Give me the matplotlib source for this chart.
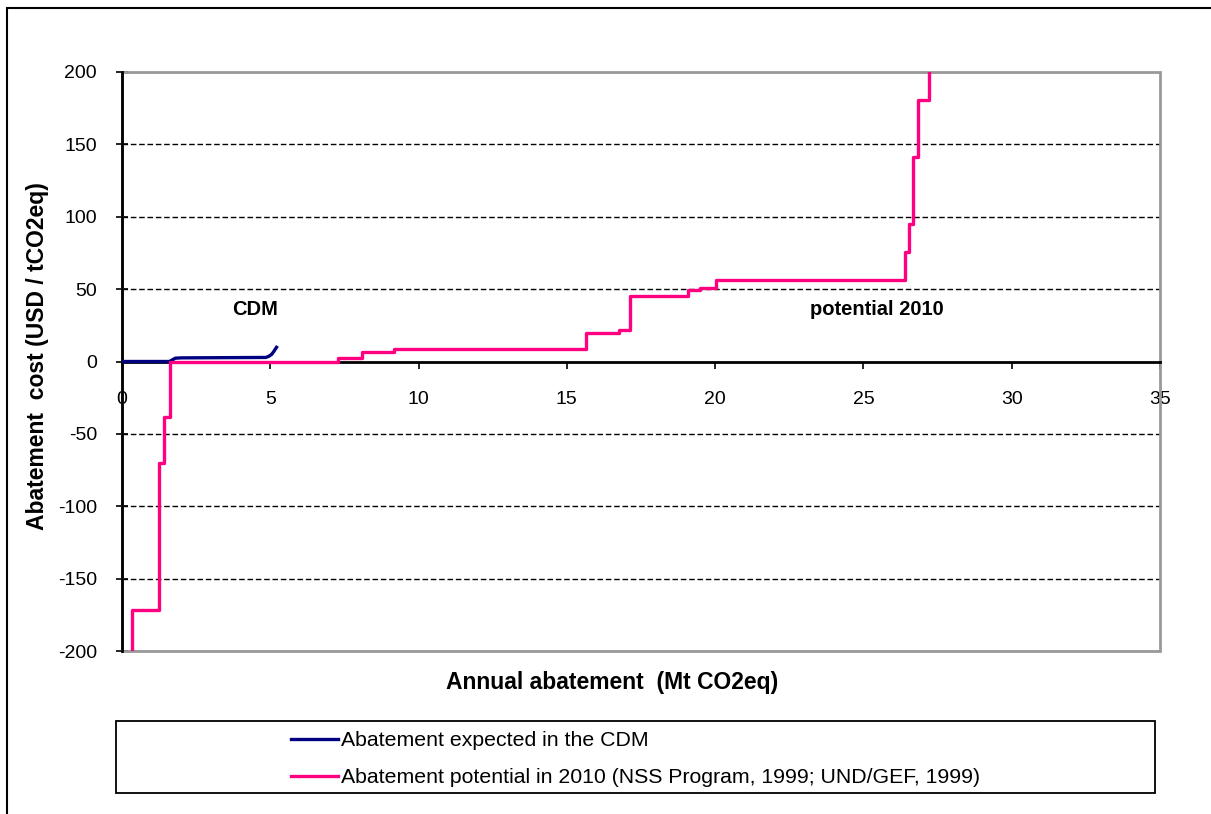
import matplotlib
matplotlib.use("Agg")
import matplotlib.pyplot as plt
from matplotlib.patches import Rectangle

plt.rcParams['font.family'] = ['Liberation Sans', 'DejaVu Sans']
plt.rcParams['axes.unicode_minus'] = False

# Abatement potential in 2010: step positions (Mt CO2eq) and cost levels (USD/tCO2eq)
pot_x = [0.33, 0.33, 1.26, 1.43, 1.63, 7.29, 8.10, 9.18, 15.64, 16.77, 17.13,
         19.09, 19.49, 20.03, 26.40, 26.54, 26.68, 26.83, 27.22]
pot_y = [-200, -172, -70, -38, 0, 2.5, 6.4, 8.8, 20, 22, 45.5,
         49.5, 51, 56.5, 75.5, 95, 141, 181, 200]

# Abatement expected in the CDM
cdm_x = [0, 1.60, 1.80, 2.00, 4.85, 4.95, 5.05, 5.12, 5.21]
cdm_y = [0, 0, 2.3, 2.5, 2.8, 3.6, 5.0, 7.0, 9.8]

x_ticks = [0, 5, 10, 15, 20, 25, 30, 35]
y_ticks = [-200, -150, -100, -50, 0, 50, 100, 150, 200]

W, H = 1211, 814
fig = plt.figure(figsize=(W / 100, H / 100), dpi=100)

# outer chart border (left/top visible)
fig.patches.append(Rectangle((7 / W, -0.05), 1.2, 1 - 8 / H + 0.05, transform=fig.transFigure,
                             fill=False, edgecolor='black', linewidth=1.5))

ax = fig.add_axes([122 / W, 1 - 651 / H, (1160 - 122) / W, (651 - 72) / H])
ax.set_xlim(0, 35)
ax.set_ylim(-200, 200)

# gridlines
for yv in y_ticks:
    if yv == 0:
        continue
    ax.axhline(yv, color='black', linestyle=(0, (4, 2)), linewidth=1.0, zorder=1)

# plot area border (gray)
ax.add_patch(Rectangle((0, 0), 1, 1, transform=ax.transAxes, fill=False,
                       edgecolor='#999999', linewidth=2, zorder=2, clip_on=False))

for s in ('top', 'right'):
    ax.spines[s].set_visible(False)
ax.spines['bottom'].set_position(('data', 0))
ax.spines['bottom'].set_linewidth(2)
ax.spines['left'].set_linewidth(2)
ax.spines['bottom'].set_zorder(3)
ax.spines['left'].set_zorder(3)

ax.plot(cdm_x, cdm_y, color='#000080', linewidth=2.4, zorder=4,
        label='Abatement expected in the CDM')
ax.plot(pot_x, pot_y, color='#FF0080', linewidth=2.4, drawstyle='steps-post', zorder=5,
        label='Abatement potential in 2010 (NSS Program, 1999; UND/GEF, 1999)')

ax.set_xticks(x_ticks)
ax.set_yticks(y_ticks)
ax.tick_params(axis='x', direction='out', length=5, width=1.2, pad=16, labelsize=14)
ax.tick_params(axis='y', direction='inout', length=8, width=1.2, pad=14, labelsize=14)

fig.text(612 / W, 1 - 683 / H, 'Annual abatement  (Mt CO2eq)', ha='center', va='center',
         fontsize=16.5, fontweight='bold')
fig.text(38 / W, 1 - 356 / H, 'Abatement  cost (USD / tCO2eq)', ha='center', va='center',
         rotation=90, fontsize=16.5, fontweight='bold')

ax.text(4.5, 36, 'CDM', ha='center', va='center', fontsize=14.5, fontweight='bold')
ax.text(25.45, 36, 'potential 2010', ha='center', va='center', fontsize=14.5, fontweight='bold')

# legend box
fig.patches.append(Rectangle((116 / W, 1 - 793 / H), (1155 - 116) / W, (793 - 721) / H,
                             transform=fig.transFigure, fill=False, edgecolor='black',
                             linewidth=1.3))
handles, labels = ax.get_legend_handles_labels()
fig.legend(handles, labels, loc='center left', bbox_to_anchor=(291 / W, 1 - 759 / H),
           frameon=False, prop={'family': ['Liberation Sans'], 'size': 15.3},
           handlelength=2.2, handletextpad=0.15, labelspacing=0.85, borderpad=0,
           borderaxespad=0)

fig.savefig('out.png', dpi=100, facecolor='white')
